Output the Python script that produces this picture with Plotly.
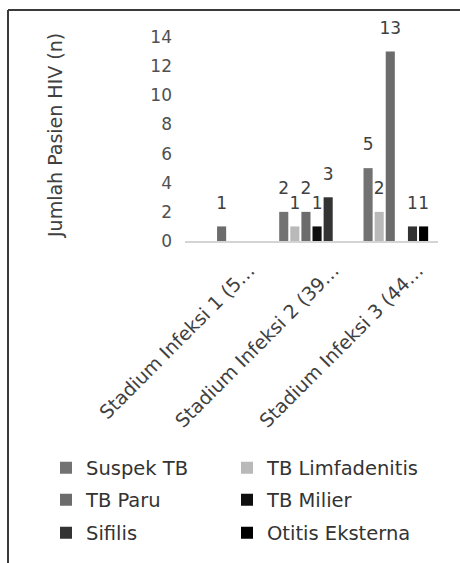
import plotly.graph_objects as go

categories = ["Stadium Infeksi 1 (5…", "Stadium Infeksi 2 (39…", "Stadium Infeksi 3 (44…"]
series_names = ["Suspek TB", "TB Limfadenitis", "TB Paru", "TB Milier", "Sifilis", "Otitis Eksterna"]
suspek_tb = [None, 2, 5]
tb_limfadenitis = [None, 1, 2]
tb_paru = [1, 2, 13]
tb_milier = [None, 1, None]
sifilis = [None, 3, 1]
otitis_eksterna = [None, None, 1]
y_ticks = [0, 2, 4, 6, 8, 10, 12, 14]

series_values = [suspek_tb, tb_limfadenitis, tb_paru, tb_milier, sifilis, otitis_eksterna]
colors = ["#727272", "#b9b9b9", "#6c6c6c", "#0e0e0e", "#333333", "#000000"]

W, H = 460, 563
ML, MR, MT, MB = 185, 22, 37, 322
PW = W - ML - MR
PH = H - MT - MB


def px_x(p):
    return (p - ML) / PW


def px_y(p):
    return (H - MB - p) / PH


BAR_GAP = 0.21
legend_ids = ["legend", "legend2", "legend3", "legend4", "legend5", "legend6"]
legend_cols_px = [46, 227]
legend_rows_px = [468, 500, 533]

fig = go.Figure()
for i, (name, vals, col) in enumerate(zip(series_names, series_values, colors)):
    fig.add_trace(go.Bar(
        name=name, x=categories, y=vals, marker=dict(color=col, line=dict(width=0)),
        legend=legend_ids[i], hoverinfo="skip",
    ))
for i, (name, vals) in enumerate(zip(series_names, series_values)):
    fig.add_trace(go.Scatter(
        name=name + " label", x=categories, y=vals, mode="markers+text",
        text=[("" if v is None else str(v)) for v in vals],
        textposition="top center", cliponaxis=False, showlegend=False,
        marker=dict(size=20, opacity=0),
        offsetgroup="lbl%d" % i, alignmentgroup="lbl", hoverinfo="skip",
        textfont=dict(family="DejaVu Sans", size=17, color="#404040"),
    ))

legend_common = dict(
    orientation="h", xanchor="left", yanchor="middle", itemwidth=30,
    font=dict(family="DejaVu Sans", size=19.5, color="#333333"),
    traceorder="normal", bgcolor="rgba(0,0,0,0)",
)
legend_layout = {}
for i, lid in enumerate(legend_ids):
    legend_layout[lid] = dict(
        x=px_x(legend_cols_px[i % 2]), y=px_y(legend_rows_px[i // 2]), **legend_common
    )

fig.update_layout(
    width=W, height=H,
    margin=dict(l=ML, r=MR, t=MT, b=MB, autoexpand=False),
    paper_bgcolor="white", plot_bgcolor="white",
    barmode="group", bargap=BAR_GAP, bargroupgap=0.18,
    scattermode="group", scattergap=BAR_GAP,
    font=dict(family="DejaVu Sans", color="#404040"),
    showlegend=True,
    xaxis=dict(
        showline=True, linecolor="#d4d4d4", linewidth=1.5, showgrid=False,
        tickangle=-45, tickfont=dict(family="DejaVu Sans", size=19, color="#404040"),
        ticklabelshift=22, ticklabelstandoff=9, ticks="", zeroline=False,
    ),
    yaxis=dict(
        range=[0, 14], tickvals=y_ticks, showgrid=False, showline=False, zeroline=False,
        tickfont=dict(family="DejaVu Sans", size=17, color="#505050"),
        ticks="", ticklabelstandoff=12,
    ),
    annotations=[dict(
        text="Jumlah Pasien HIV (n)", textangle=-90, showarrow=False,
        xref="paper", yref="paper", x=px_x(55), y=px_y(136),
        xanchor="center", yanchor="middle",
        font=dict(family="DejaVu Sans", size=19, color="#404040"),
    )],
    shapes=[
        dict(type="line", xref="paper", yref="paper", x0=px_x(8), x1=px_x(470),
             y0=px_y(10), y1=px_y(10), line=dict(color="#3a3a3a", width=2)),
        dict(type="line", xref="paper", yref="paper", x0=px_x(8), x1=px_x(8),
             y0=px_y(10), y1=px_y(575), line=dict(color="#3a3a3a", width=2)),
    ],
    **legend_layout,
)

fig.write_html("out.html")
